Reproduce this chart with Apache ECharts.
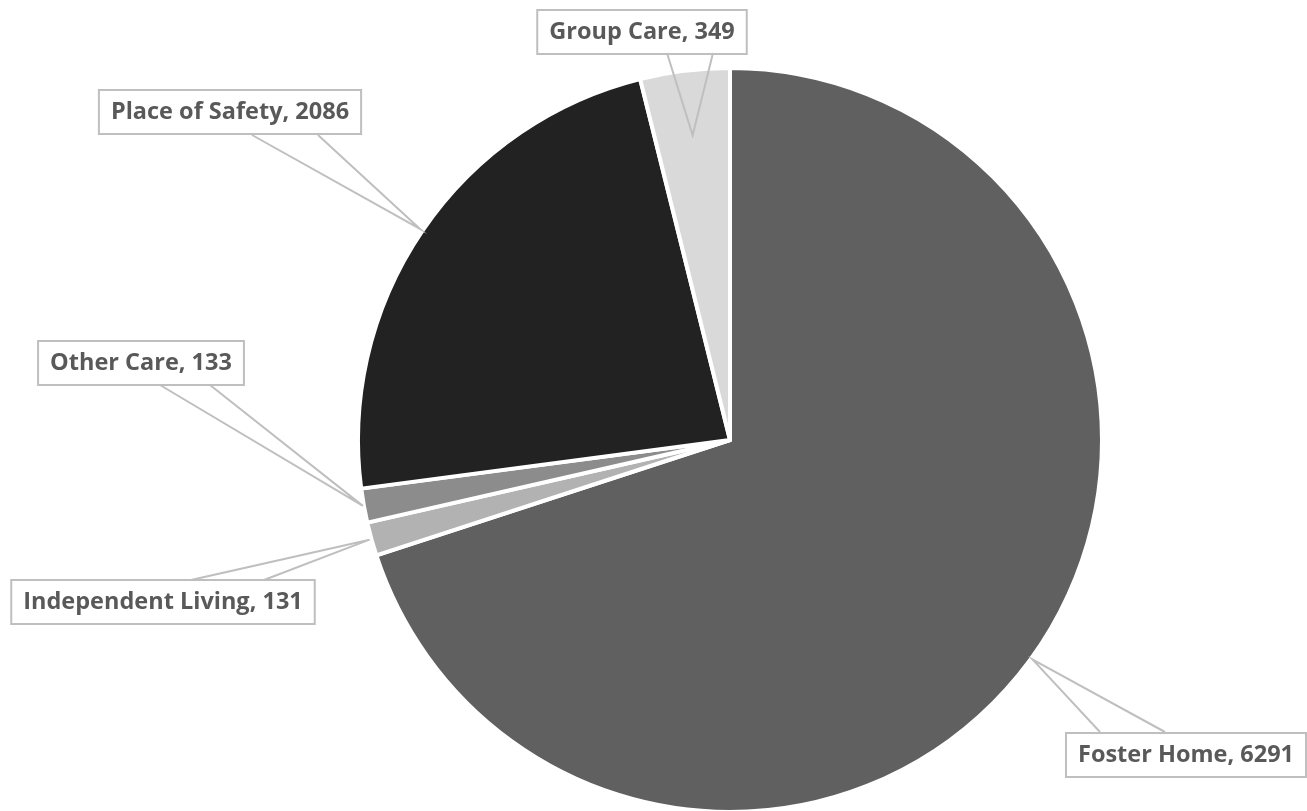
<!DOCTYPE html>
<html><head><meta charset="utf-8">
<script src="https://cdn.jsdelivr.net/npm/echarts@6/dist/echarts.min.js"></script>
<style>html,body{margin:0;padding:0;background:#fff}#c{width:1307px;height:811px}</style>
</head><body><div id="c"></div>
<script>
const categories = ['Foster Home', 'Independent Living', 'Other Care', 'Place of Safety', 'Group Care'];
const values = [6291, 131, 133, 2086, 349];
const colors = ['#606060', '#b2b2b2', '#8c8c8c', '#222222', '#d9d9d9'];

// label box centers and callout wedge base offsets (styling/positioning only)
const labelPos = [[1186, 755], [163, 602], [141, 363], [230, 112], [642, 32]];
const wedgeBase = [[[-86, -23], [-21, -23]], [[28, -22], [101, -22]], [[19, 22], [69, 22]], [[22, 23], [88, 23]], [[25, 21], [71, 21]]];
const tipRadius = [374, 374, 373, 375, 307];

const chart = echarts.init(document.getElementById('c'));
const cx = 730, cy = 440, R = 372;

const total = values.reduce((a, b) => a + b, 0);
let cum = 0;
const midAngles = values.map(v => { const a = (cum + v / 2) / total * 2 * Math.PI; cum += v; return a; });

const wedges = values.map((v, i) => {
  const [lx, ly] = labelPos[i];
  const a = midAngles[i];
  const tip = [cx + tipRadius[i] * Math.sin(a), cy - tipRadius[i] * Math.cos(a)];
  const b = wedgeBase[i];
  return {
    type: 'polyline', z: 100, silent: true,
    shape: { points: [[lx + b[0][0], ly + b[0][1]], tip, [lx + b[1][0], ly + b[1][1]]] },
    style: { stroke: '#bfbfbf', lineWidth: 2, fill: null }
  };
});

chart.setOption({
  animation: false,
  graphic: wedges,
  series: [{
    type: 'pie',
    center: [cx, cy],
    radius: [0, R],
    startAngle: 90,
    clockwise: true,
    avoidLabelOverlap: false,
    data: categories.map((n, i) => ({ name: n, value: values[i], itemStyle: { color: colors[i] } })),
    itemStyle: { borderColor: '#ffffff', borderWidth: 4 },
    label: {
      show: true,
      formatter: p => p.name + ', ' + p.value,
      fontFamily: 'Open Sans',
      fontWeight: 'bold',
      fontSize: 23.5,
      lineHeight: 28,
      color: '#595959',
      backgroundColor: '#ffffff',
      borderColor: '#bfbfbf',
      borderWidth: 2,
      padding: [7, 11, 7, 11]
    },
    labelLine: { show: false },
    labelLayout: function (params) {
      const [lx, ly] = labelPos[params.dataIndex];
      return { x: lx, y: ly, align: 'center', verticalAlign: 'middle' };
    },
    emphasis: { disabled: true }
  }]
});
</script></body></html>
